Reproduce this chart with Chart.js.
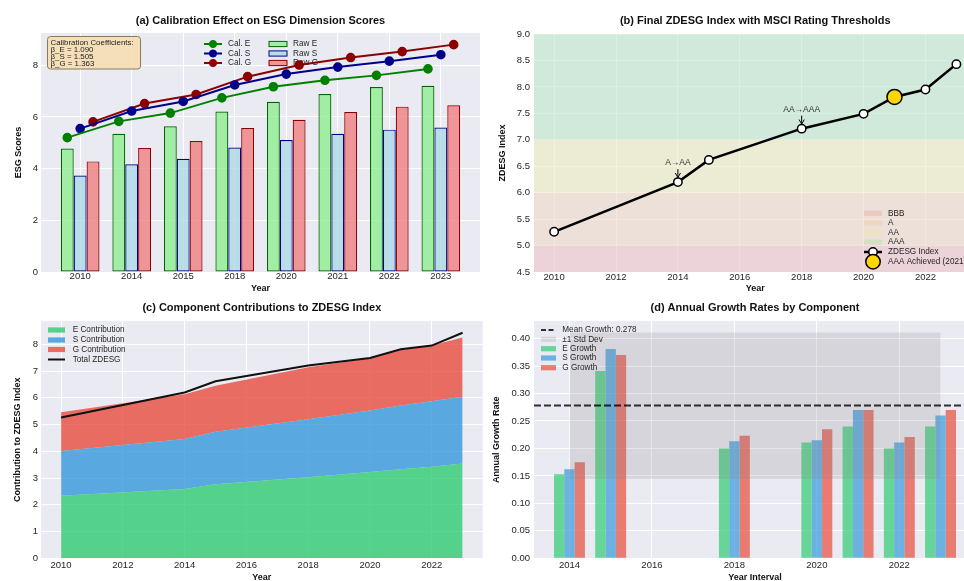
<!DOCTYPE html>
<html>
<head>
<meta charset="utf-8">
<script src="https://cdn.jsdelivr.net/npm/chart.js@4.4.1/dist/chart.umd.min.js"></script>
<style>
  html, body { margin: 0; padding: 0; background: #ffffff; overflow: hidden; }
  #fig { position: relative; width: 964px; height: 581px; overflow: hidden; background: #ffffff; }
  #fig canvas { position: absolute; }
</style>
</head>
<body>
<div id="fig">
  <canvas id="cA" width="486" height="300" style="left:0px;top:0px"></canvas>
  <canvas id="cB" width="500" height="300" style="left:488px;top:0px"></canvas>
  <canvas id="cC" width="486" height="300" style="left:0px;top:290px"></canvas>
  <canvas id="cD" width="500" height="300" style="left:488px;top:290px"></canvas>
</div>
<script>
// ---------------- data ----------------
// (a) raw and calibrated dimension scores
const scoreYears = ['2010', '2014', '2015', '2018', '2020', '2021', '2022', '2023'];
const rawE = [4.78, 5.35, 5.64, 6.21, 6.59, 6.89, 7.16, 7.21];
const rawS = [3.73, 4.17, 4.38, 4.82, 5.11, 5.35, 5.51, 5.59];
const rawG = [4.28, 4.80, 5.07, 5.57, 5.89, 6.19, 6.40, 6.45];
const calE = [5.20, 5.83, 6.15, 6.74, 7.17, 7.42, 7.61, 7.86];
const calS = [5.55, 6.23, 6.60, 7.24, 7.66, 7.93, 8.16, 8.41];
const calG = [5.81, 6.52, 6.87, 7.56, 8.01, 8.30, 8.53, 8.80];
const coefTitle = 'Calibration Coefficients:';
const coefLabels = ['β_E = 1.090', 'β_S = 1.505', 'β_G = 1.363'];
const scoreTicks = [0, 2, 4, 6, 8];

// (b) final index and rating thresholds
const indexYears = [2010, 2014, 2015, 2018, 2020, 2021, 2022, 2023];
const zdesg = [5.26, 6.20, 6.62, 7.21, 7.49, 7.81, 7.95, 8.43];
const ratingNames = ['BBB', 'A', 'AA', 'AAA'];
const ratingFloor = [0, 5, 6, 7];
const ratingCeil = [5, 6, 7, 10];
const aaaYear = 2021;
const transitionYears = [2014, 2018];
const transitionLabels = ['A→AA', 'AA→AAA'];
const indexTicks = [4.5, 5.0, 5.5, 6.0, 6.5, 7.0, 7.5, 8.0, 8.5, 9.0];
const yearTicks = [2010, 2012, 2014, 2016, 2018, 2020, 2022];

// (c) component contributions
const contribE = [2.34, 2.59, 2.77, 3.03, 3.23, 3.33, 3.42, 3.54];
const contribS = [1.67, 1.87, 1.96, 2.17, 2.29, 2.38, 2.45, 2.50];
const contribG = [1.45, 1.67, 1.72, 1.94, 1.96, 2.08, 2.08, 2.21];
const contribTicks = [0, 1, 2, 3, 4, 5, 6, 7, 8];

// (d) annual growth rates
const growthYears = [2014, 2015, 2018, 2020, 2021, 2022, 2023];
const growthE = [0.153, 0.341, 0.200, 0.211, 0.240, 0.200, 0.240];
const growthS = [0.162, 0.381, 0.213, 0.215, 0.270, 0.211, 0.260];
const growthG = [0.175, 0.370, 0.223, 0.235, 0.270, 0.221, 0.270];
const meanGrowth = 0.278;
const stdGrowth = 0.133;
const growthTicks = [0, 0.05, 0.10, 0.15, 0.20, 0.25, 0.30, 0.35, 0.40];
const growthYearTicks = [2014, 2016, 2018, 2020, 2022];

// ---------------- shared style ----------------
const FAMILY = "'Liberation Sans', Arial, 'DejaVu Sans', sans-serif";
const TEXT = '#262626';
const PANEL_BG = '#EAEAF2';
Chart.defaults.font.family = FAMILY;
Chart.defaults.font.size = 9.5;
Chart.defaults.color = TEXT;
Chart.defaults.animation = false;
Chart.defaults.responsive = false;
Chart.defaults.events = [];
Chart.defaults.plugins.legend.display = false;
Chart.defaults.plugins.tooltip.enabled = false;

const at = (xs, ys, dx = 0) => ys.map((v, i) => ({ x: xs[i] + dx, y: v }));

function axis({ min, max, ticks, fmt, side, size, tickPad, title, titlePad, stacked, gridColor }) {
  return {
    type: 'linear', min, max, bounds: 'data', offset: false, stacked: !!stacked,
    grid: { color: gridColor || '#ffffff', lineWidth: 1, drawTicks: false, offset: false },
    border: { display: false },
    ticks: { padding: tickPad, autoSkip: false, maxRotation: 0, color: TEXT,
             font: { size: 9.5, lineHeight: 1 }, callback: fmt },
    afterBuildTicks: s => { s.ticks = ticks.map(v => ({ value: v })); },
    afterFit: s => { if (side === 'x') s.height = size; else s.width = size; },
    title: { display: true, text: title, color: '#111111',
             font: { size: 9, weight: 'bold', lineHeight: 1 }, padding: titlePad }
  };
}

function panelTitle(text, top, bottom) {
  return { display: true, text, fullSize: false, color: '#111111',
           font: { size: 11, weight: 'bold', lineHeight: 1 }, padding: { top, bottom } };
}

const panelBg = {
  id: 'panelBg',
  beforeDraw(chart) {
    const { ctx, chartArea: a } = chart;
    ctx.save();
    ctx.fillStyle = PANEL_BG;
    ctx.fillRect(a.left, a.top, a.right - a.left, a.bottom - a.top);
    ctx.restore();
  }
};

// legend rows: patch, line (optionally dashed), and marker samples
function drawLegend(ctx, items, x0, w, tx, ys, fontSize = 8.2) {
  ctx.save();
  ctx.font = `${fontSize}px ${FAMILY}`;
  ctx.textBaseline = 'middle';
  items.forEach((it, k) => {
    const y = ys[k];
    if (it.kind === 'patch') {
      ctx.fillStyle = it.fill;
      ctx.fillRect(x0, y - 2.6, w, 5.2);
      if (it.stroke) { ctx.strokeStyle = it.stroke; ctx.lineWidth = 1; ctx.strokeRect(x0, y - 2.6, w, 5.2); }
    } else {
      if (it.stroke) {
        ctx.strokeStyle = it.stroke; ctx.lineWidth = it.lw || 2; ctx.setLineDash(it.dash || []);
        ctx.beginPath(); ctx.moveTo(x0, y); ctx.lineTo(x0 + w, y); ctx.stroke();
        ctx.setLineDash([]);
      }
      if (it.r) {
        ctx.beginPath(); ctx.arc(x0 + w / 2, y, it.r, 0, Math.PI * 2);
        ctx.fillStyle = it.mfill; ctx.fill();
        ctx.lineWidth = it.mlw || 1; ctx.strokeStyle = it.mstroke; ctx.stroke();
      }
    }
    ctx.fillStyle = TEXT;
    ctx.fillText(it.label, tx, y);
  });
  ctx.restore();
}

// ---------------- (a) calibration effect ----------------
const slot = 0.25;                 // one bar of a three-bar year group
const xIdx = scoreYears.map((_, i) => i);
const calColors = ['#008000', '#00008B', '#8B0000'];
const rawFills = ['rgba(144,238,144,0.8)', 'rgba(173,216,230,0.8)', 'rgba(240,128,128,0.8)'];
const rawEdges = ['#006400', '#00008B', '#8B0000'];

const calibOverlay = {
  id: 'calibOverlay',
  beforeDatasetsDraw(chart) {
    const { ctx, chartArea: a } = chart;
    const ds = chart.data.datasets;
    ctx.save();
    const bx = a.left + 6.5, by = a.top + 3.5, bw = 93, bh = 32.5;
    ctx.beginPath();
    if (ctx.roundRect) ctx.roundRect(bx, by, bw, bh, 3); else ctx.rect(bx, by, bw, bh);
    ctx.fillStyle = 'rgba(245,222,179,0.9)'; ctx.fill();
    ctx.strokeStyle = '#8a7a5c'; ctx.lineWidth = 1; ctx.stroke();
    ctx.fillStyle = '#222222';
    ctx.font = `7.9px ${FAMILY}`;
    ctx.textBaseline = 'middle';
    [coefTitle, ...coefLabels].forEach((t, k) => ctx.fillText(t, bx + 3, by + 6.2 + k * 6.9));
    ctx.restore();
    const rows = [a.top + 11, a.top + 20.5, a.top + 30];
    drawLegend(ctx, ds.slice(0, 3).map(d => ({ kind: 'line', stroke: d.borderColor, lw: 2, r: 3.6,
      mfill: d.borderColor, mstroke: d.borderColor, label: d.label })), a.left + 163, 18, a.left + 187, rows);
    drawLegend(ctx, ds.slice(3).map(d => ({ kind: 'patch', fill: d.backgroundColor, stroke: d.borderColor,
      label: d.label })), a.left + 228, 18, a.left + 252, rows);
  }
};

new Chart(document.getElementById('cA'), {
  type: 'bar',
  data: {
    datasets: [
      { type: 'line', label: 'Cal. E', data: at(xIdx, calE, -slot), borderColor: calColors[0], backgroundColor: calColors[0],
        borderWidth: 2, pointRadius: 3.8, pointBackgroundColor: calColors[0], pointBorderColor: calColors[0], order: 0 },
      { type: 'line', label: 'Cal. S', data: at(xIdx, calS, 0), borderColor: calColors[1], backgroundColor: calColors[1],
        borderWidth: 2, pointRadius: 3.8, pointBackgroundColor: calColors[1], pointBorderColor: calColors[1], order: 0 },
      { type: 'line', label: 'Cal. G', data: at(xIdx, calG, slot), borderColor: calColors[2], backgroundColor: calColors[2],
        borderWidth: 2, pointRadius: 3.8, pointBackgroundColor: calColors[2], pointBorderColor: calColors[2], order: 0 },
      { label: 'Raw E', data: at(xIdx, rawE), backgroundColor: rawFills[0], borderColor: rawEdges[0], borderWidth: 1.2, borderSkipped: false, order: 1 },
      { label: 'Raw S', data: at(xIdx, rawS), backgroundColor: rawFills[1], borderColor: rawEdges[1], borderWidth: 1.2, borderSkipped: false, order: 1 },
      { label: 'Raw G', data: at(xIdx, rawG), backgroundColor: rawFills[2], borderColor: rawEdges[2], borderWidth: 1.2, borderSkipped: false, order: 1 }
    ]
  },
  options: {
    layout: { padding: { left: 0, right: 4, top: 0, bottom: 0 } },
    datasets: { bar: { categoryPercentage: 0.75, barPercentage: 1 } },
    scales: {
      x: axis({ min: -0.76, max: 7.76, ticks: xIdx, fmt: v => scoreYears[v], side: 'x', size: 28, tickPad: 0,
                title: 'Year', titlePad: { top: 0, bottom: 6.75 } }),
      y: axis({ min: 0, max: 9.25, ticks: scoreTicks, fmt: v => String(v), side: 'y', size: 41, tickPad: 3,
                title: 'ESG Scores', titlePad: { top: 13.75, bottom: 0 } })
    },
    plugins: { title: panelTitle('(a) Calibration Effect on ESG Dimension Scores', 15.5, 6.5) }
  },
  plugins: [panelBg, calibOverlay]
});

// ---------------- (b) final index with rating thresholds ----------------
const bandColors = ['rgba(255,0,0,0.10)', 'rgba(255,140,0,0.10)', 'rgba(255,255,0,0.12)', 'rgba(30,230,50,0.12)'];
const aaaValue = zdesg[indexYears.indexOf(aaaYear)];

const ratingBands = {
  id: 'ratingBands',
  beforeDatasetsDraw(chart) {
    const { ctx, chartArea: a, scales: { y } } = chart;
    ctx.save();
    ctx.beginPath(); ctx.rect(a.left, a.top, a.right - a.left, a.bottom - a.top); ctx.clip();
    ratingNames.forEach((_, i) => {
      const t = y.getPixelForValue(ratingCeil[i]);
      const b = y.getPixelForValue(ratingFloor[i]);
      ctx.fillStyle = bandColors[i];
      ctx.fillRect(a.left, t, a.right - a.left, b - t);
    });
    ctx.restore();
  },
  afterDatasetsDraw(chart) {
    const { ctx, chartArea: a, scales: { x, y } } = chart;
    ctx.save();
    ctx.font = `8.5px ${FAMILY}`;
    ctx.textAlign = 'center';
    ctx.textBaseline = 'middle';
    transitionYears.forEach((yr, k) => {
      const v = zdesg[indexYears.indexOf(yr)];
      const px = x.getPixelForValue(yr);
      const py = y.getPixelForValue(v);
      const ty = y.getPixelForValue(v + 0.36);
      ctx.fillStyle = '#333333';
      ctx.fillText(transitionLabels[k], px, ty);
      const y0 = ty + 6, y1 = py - 4.6;
      ctx.strokeStyle = '#000000'; ctx.lineWidth = 1;
      ctx.beginPath(); ctx.moveTo(px, y0); ctx.lineTo(px, y1); ctx.stroke();
      ctx.beginPath(); ctx.moveTo(px - 2.6, y1 - 4.5); ctx.lineTo(px, y1); ctx.lineTo(px + 2.6, y1 - 4.5); ctx.stroke();
    });
    ctx.restore();
    const ds = chart.data.datasets;
    const items = ratingNames.map((n, i) => ({ kind: 'patch', fill: bandColors[i], label: n }));
    items.push({ kind: 'line', stroke: ds[1].borderColor, lw: 2.5, r: 4.2, mfill: '#ffffff', mstroke: '#000000', mlw: 1.5, label: ds[1].label });
    items.push({ kind: 'line', r: 7.2, mfill: ds[0].pointBackgroundColor, mstroke: '#000000', mlw: 1.5, label: ds[0].label });
    const rows = [179.3, 189, 198.5, 208, 218, 227.7].map(r => a.top + r);
    drawLegend(ctx, items, a.left + 330, 18, a.left + 354, rows);
  }
};

new Chart(document.getElementById('cB'), {
  type: 'line',
  data: {
    datasets: [
      { label: 'AAA Achieved (2021)', data: [{ x: aaaYear, y: aaaValue }], showLine: false, pointRadius: 7.5,
        pointBackgroundColor: '#FFD700', pointBorderColor: '#000000', pointBorderWidth: 1.5, order: 0 },
      { label: 'ZDESG Index', data: at(indexYears, zdesg), borderColor: '#000000', borderWidth: 2.5, pointRadius: 4.2,
        pointBackgroundColor: '#ffffff', pointBorderColor: '#000000', pointBorderWidth: 1.5, order: 1 }
    ]
  },
  options: {
    layout: { padding: { left: 0, right: 11.5, top: 0, bottom: 0 } },
    scales: {
      x: axis({ min: 2009.35, max: 2023.65, ticks: yearTicks, fmt: v => String(v), side: 'x', size: 28, tickPad: 0.3,
                title: 'Year', titlePad: { top: 0, bottom: 6.75 }, gridColor: 'rgba(255,255,255,0.45)' }),
      y: axis({ min: 4.5, max: 9.0, ticks: indexTicks, fmt: v => v.toFixed(1), side: 'y', size: 46, tickPad: 4,
                title: 'ZDESG Index', titlePad: { top: 10.5, bottom: 0 }, gridColor: 'rgba(255,255,255,0.45)' })
    },
    plugins: { title: panelTitle('(b) Final ZDESG Index with MSCI Rating Thresholds', 15.5, 7.5) }
  },
  plugins: [panelBg, ratingBands]
});

// ---------------- (c) component contributions ----------------
const areaColors = ['rgba(46,204,113,0.8)', 'rgba(52,152,219,0.8)', 'rgba(231,76,60,0.8)'];

const contribLegend = {
  id: 'contribLegend',
  afterDraw(chart) {
    const { ctx, chartArea: a } = chart;
    const ds = chart.data.datasets;
    const items = ds.slice(0, 3).map(d => ({ kind: 'patch', fill: d.backgroundColor, label: d.label }));
    items.push({ kind: 'line', stroke: ds[3].borderColor, lw: 2, label: ds[3].label });
    drawLegend(ctx, items, a.left + 7, 17, a.left + 31.7, [9, 19, 28.5, 38.5].map(r => a.top + r));
  }
};

new Chart(document.getElementById('cC'), {
  type: 'line',
  data: {
    datasets: [
      { label: 'E Contribution', data: at(indexYears, contribE), fill: 'origin', backgroundColor: areaColors[0],
        borderWidth: 0, pointRadius: 0, stack: 'parts', order: 1 },
      { label: 'S Contribution', data: at(indexYears, contribS), fill: '-1', backgroundColor: areaColors[1],
        borderWidth: 0, pointRadius: 0, stack: 'parts', order: 1 },
      { label: 'G Contribution', data: at(indexYears, contribG), fill: '-1', backgroundColor: areaColors[2],
        borderWidth: 0, pointRadius: 0, stack: 'parts', order: 1 },
      { label: 'Total ZDESG', data: at(indexYears, zdesg), fill: false, borderColor: '#111111', borderWidth: 2,
        pointRadius: 0, stack: 'total', order: 0 }
    ]
  },
  options: {
    layout: { padding: { left: 0, right: 3.3, top: 0, bottom: 0 } },
    scales: {
      x: axis({ min: 2009.35, max: 2023.65, ticks: yearTicks, fmt: v => String(v), side: 'x', size: 31.7, tickPad: 2,
                title: 'Year', titlePad: { top: 0, bottom: 7.75 } }),
      y: axis({ min: 0, max: 8.87, ticks: contribTicks, fmt: v => String(v), side: 'y', size: 41, tickPad: 3,
                title: 'Contribution to ZDESG Index', titlePad: { top: 13, bottom: 0 }, stacked: true })
    },
    plugins: { title: panelTitle('(c) Component Contributions to ZDESG Index', 12.2, 7.8) }
  },
  plugins: [panelBg, contribLegend]
});

// ---------------- (d) annual growth rates ----------------
const growthLimits = [2013.14, 2023.86];
const growthColors = ['rgba(46,204,113,0.7)', 'rgba(52,152,219,0.7)', 'rgba(231,76,60,0.7)'];
const bandFill = 'rgba(128,128,128,0.2)';

const growthLegend = {
  id: 'growthLegend',
  afterDraw(chart) {
    const { ctx, chartArea: a } = chart;
    const ds = chart.data.datasets;
    const items = [
      { kind: 'line', stroke: ds[0].borderColor, lw: 2, dash: [5, 2.5], label: ds[0].label },
      { kind: 'patch', fill: bandFill, label: ds[1].label },
      ...ds.slice(3).map(d => ({ kind: 'patch', fill: d.backgroundColor, label: d.label }))
    ];
    drawLegend(ctx, items, a.left + 7, 15, a.left + 28.3, [9, 18.3, 27.7, 37, 46.7].map(r => a.top + r));
  }
};

new Chart(document.getElementById('cD'), {
  type: 'bar',
  data: {
    datasets: [
      { type: 'line', label: 'Mean Growth: ' + meanGrowth.toFixed(3),
        data: growthLimits.map(x => ({ x, y: meanGrowth })), borderColor: 'rgba(0,0,0,0.8)', borderWidth: 2,
        borderDash: [7, 3], pointRadius: 0, fill: false, order: 0 },
      { type: 'line', label: '±1 Std Dev', data: growthYears.map(x => ({ x, y: meanGrowth + stdGrowth })),
        borderWidth: 0, pointRadius: 0, fill: '+1', backgroundColor: bandFill, order: 1 },
      { type: 'line', label: 'lower', data: growthYears.map(x => ({ x, y: meanGrowth - stdGrowth })),
        borderWidth: 0, pointRadius: 0, fill: false, order: 1 },
      { label: 'E Growth', data: at(growthYears, growthE), backgroundColor: growthColors[0], borderWidth: 0, order: 2 },
      { label: 'S Growth', data: at(growthYears, growthS), backgroundColor: growthColors[1], borderWidth: 0, order: 2 },
      { label: 'G Growth', data: at(growthYears, growthG), backgroundColor: growthColors[2], borderWidth: 0, order: 2 }
    ]
  },
  options: {
    layout: { padding: { left: 0, right: 12, top: 0, bottom: 0 } },
    datasets: { bar: { categoryPercentage: 0.75, barPercentage: 1 } },
    scales: {
      x: axis({ min: growthLimits[0], max: growthLimits[1], ticks: growthYearTicks, fmt: v => String(v), side: 'x',
                size: 31.7, tickPad: 2, title: 'Year Interval', titlePad: { top: 0, bottom: 7.75 } }),
      y: axis({ min: 0, max: 0.432, ticks: growthTicks, fmt: v => v.toFixed(2), side: 'y', size: 46, tickPad: 4,
                title: 'Annual Growth Rate', titlePad: { top: 3.75, bottom: 0 } })
    },
    plugins: { title: panelTitle('(d) Annual Growth Rates by Component', 12.2, 7.8) }
  },
  plugins: [panelBg, growthLegend]
});
</script>
</body>
</html>
